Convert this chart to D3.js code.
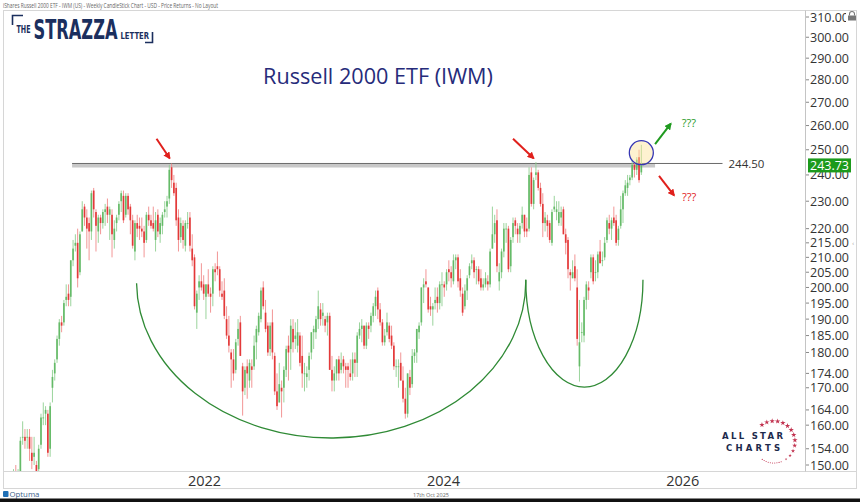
<!DOCTYPE html>
<html><head><meta charset="utf-8">
<script src="https://cdn.jsdelivr.net/npm/d3@7"></script>
<style>body{margin:0;background:#fff}svg{display:block}</style>
</head><body>
<svg id="c" width="860" height="502"></svg>
<script>
// ---------- DATA (weekly IWM candles: [open, high, low, close]) ----------
const firstWeek = "2020-06-22";
const ohlc2020 = [
[143,145,137,138],[138,144,137,143],[145,146,139,142],[143,149,140,147],[147,150,145,146],[146,149,144,147],
[148,157,147,156],[157,161,155,157],[157,159,154,156],[157,159,154,157],[157,159,151,154],
[153,157,149,151],[152,157,150,153],[150,151,143,148],[149,155,148,154],
[155,163,154,162],[162,166,160,162],[163,165,160,164],[163,164,152,153],
[154,166,152,165],[170,175,166,173],[174,178,172,177],[178,185,177,184],[184,190,182,189],
[189,191,186,188],[189,196,188,195],[196,201,194,197],[198,201,194,196]];
const ohlc2021 = [
[197,209,194,209],[209,216,207,213],[214,218,212,215],[215,220,200,203],
[205,219,204,218],[219,230,219,227],[228,229,221,224],[224,227,213,220],
[222,224,209,219],[219,234,216,233],[234,235,224,227],[226,227,212,221],[219,225,215,224],
[224,225,218,222],[222,227,220,226],[226,229,221,227],[228,231,222,225],
[225,228,216,227],[225,227,210,218],[216,223,213,220],[222,225,219,224],[225,230,223,229],
[230,234,226,233],[232,234,222,223],[225,233,224,232],[232,233,225,227],
[228,229,218,223],[223,225,213,214],[212,223,209,222],[222,225,217,220],
[221,224,216,220],[220,224,217,219],[219,221,210,215],[216,226,215,225],[225,228,221,223],
[223,225,220,221],[222,228,219,220],[216,226,212,223],[225,227,217,219],
[218,224,215,222],[221,226,218,225],[226,230,224,227],[228,232,224,230],
[231,244,229,242],[243,244.5,235,238],[237,240,232,233],[235,237,221,223],[224,227,212,216],
[217,224,215,222],[221,223,213,216],[214,223,212,222],[222,226,220,222]];
const ohlc2022 = [
[224,226,212,214],[213,218,207,209],[210,211,193,194],[192,199,187,198],[200,204,196,202],
[202,208,199,200],[201,204,196,198],[197,201,190,201],[201,206,197,198],
[198,200,192,197],[198,207,194,206],[206,208,202,205],[207,212,204,206],
[206,207,197,199],[198,202,196,197],[199,203,190,191],[190,194,184,185],
[185,191,180,182],[180,181,170,178],[178,181,172,174],[175,184,174,183],[184,190,182,187],
[189,191,179,179],[176,177,162.5,169],[170,176,168,175],[176,178,167,174],
[172,178,170,177],[176,178,170,175],[176,185,175,182],[183,188,178,187],
[186,192,185,191],[190,200,189,199],[200,202,193,194],[192,196,186,187],[188,189,179,180],
[181,189,179,188],[189,193,178,180],[179,180,168,169],[169,174,164,165],
[166,177,166,171],[170,172,162,169],[170,176,166,175],[175,182,173,181],[182,185,172,180],
[181,190,175,188],[187,190,180,183],[184,189,181,185],[182,190,180,186],
[185,186,176,177],[179,185,170,174],[174,177,169,174],[173,176,170,174]];
const ohlc2023 = [
[175,180,172,179],[180,186,178,186],[186,188,181,187],[186,191,184,190],[190,199,187,194],
[193,195,188,190],[191,195,188,192],[190,191,186,188],[189,192,185,191],
[191,192,175,175],[175,179,169,172],[172,176,169,174],[174,178,172,178],
[178,179,172,174],[175,180,174,177],[178,179,174,176],[176,177,170,175],
[176,177,170,175],[174,178,172,173],[174,180,172,178],[178,180,173,177],[177,186,173,185],
[185,189,184,187],[187,190,183,188],[188,188,181,182],[182,189,181,188],
[188,189,184,187],[188,192,186,191],[191,195,189,194],[194,199,191,197],[199,200,190,193],
[193,195,188,189],[189,190,182,183],[183,187,182,185],[186,192,185,189],
[188,189,183,184],[185,188,181,182],[182,183,175,176],[176,178,173,176],
[176,178,170,176],[177,180,172,172],[172,176,166,167],[167,170,161.7,163],[163,174,162,174],
[173,175,168,170],[171,181,170,179],[179,181,177,180],[180,187,177,187],
[186,189,184,188],[189,200,188,200],[200,203,195,201],[202,206,200,201]];
const ohlc2024 = [
[200,200,192,193],[194,197,191,193],[193,195,188,194],[195,200,193,196],[197,200,192,195],
[195,202,193,201],[201,205,194,201],[201,202,197,200],[201,206,199,205],
[206,209,202,205],[205,207,200,203],[202,211,201,209],[209,211,206,210],
[210,211,200,202],[203,206,197,199],[198,200,191,192],[194,201,193,199],[199,204,196,203],
[204,208,203,207],[208,211,206,209],[209,210,203,205],[206,207,201,206],
[206,207,201,202],[203,206,199,200],[200,203,199,201],[201,205,200,203],
[202,204,199,201],[201,213,200,212],[213,228,213,218],[218,225,215,222],[223,227,205,207],
[202,208,199,205],[205,213,203,212],[212,222,210,220],[220,222,215,220],
[220,221,205,206],[207,217,205,216],[217,224,215,222],[223,224,218,221],[220,222,215,218],
[218,222,215,221],[222,228,220,225],[225,225,217,219],[220,224,217,219],
[220,243,219,240],[241,243,228,229],[229,239,227,238],[240,245,238,241],
[241,242,234,235],[235,237,228,229],[229,233,217,222],[222,226,219,224],[223,225,217,221]];
const ohlc2025 = [
[222,223,215,216],[215,227,214,226],[227,232,226,228],[226,230,223,227],
[222,230,221,226],[224,228,221,226],[227,228,218,218],[218,220,211,215],
[216,217,203,206],[205,206,199,204],[203,209,203,205],[207,211,202,203],[200,206,182,184],
[176,196,171.7,183],[186,189,183,186],[185,197,183,196],[196,202,193,201],
[200,202,196,199],[205,211,203,210],[210,211,201,202],[205,209,202,205],
[205,212,203,211],[212,216,208,208],[209,212,207,209],[210,217,209,215],[216,224,215,223],
[222,225,218,220],[220,224,216,223],[224,228,221,222],[223,225,214,215],
[216,221,214,220],[221,232,220,227],[227,234,222,233],[233,238,232,236],
[235,240,232,237],[238,240,236,239],[239,246,238,244],[244,245,239,242],[242,247,240,246],
[247,250,237,238],[241,252,240,243.73]];

const priceTicks = [310,300,290,280,270,260,250,240,230,220,215,210,205,200,195,190,185,180,174,170,164,160,154,150];
const yearTicks = ["2022-01-01","2024-01-01","2026-01-01"];
const lastPrice = 243.73;
const resistance = 244.50;
const bandLow = 242.9;
const bandSpan = ["2021-01-12","2025-11-28"];
const lineEnd = "2026-06-22";
// annotations in data space: [date, price]
const bigArc = {from:["2021-07-28",201.4], to:["2024-10-29",202.5], bottom:156.7};
const smallArc = {from:["2024-10-29",202.5], to:["2025-10-22",202.5], bottom:170.2};
const redArrows = [
  {from:["2021-09-27",254.5], to:["2021-11-06",246.6]},
  {from:["2024-09-20",254.5], to:["2024-11-22",246.6]}];
const upArrow = {from:["2025-11-28",252.3], to:["2026-01-15",260.8]};
const downArrow = {from:["2025-12-10",239.6], to:["2026-01-25",232.2]};
const circleAt = ["2025-10-17",248.8];
const titleText = "Russell 2000 ETF (IWM)";
const headerText = "iShares Russell 2000 ETF - IWM (US) - Weekly CandleStick Chart - USD - Price Returns - No Layout";

// ---------- SCALES ----------
const P = d3.utcParse("%Y-%m-%d");
const svg = d3.select("#c");
const x = d3.scaleUtc().domain([P("2020-06-18"), P("2027-03-01")]).range([4, 805]);
const y = d3.scaleLog().domain([150, 310]).range([465, 17]);
const font = "'Open Sans', 'Noto Sans', sans-serif";

const all = [].concat(ohlc2020, ohlc2021, ohlc2022, ohlc2023, ohlc2024, ohlc2025);
const t0 = P(firstWeek);
const data = all.map((d, i) => ({date: d3.utcDay.offset(t0, i * 7 + 4), o: d[0], h: d[1], l: d[2], c: d[3]}));

// ---------- FRAME ----------
svg.append("rect").attr("x",0).attr("y",0).attr("width",860).attr("height",502).attr("fill","#fff");
svg.append("text").attr("x",3).attr("y",7.5).attr("font-size",6.3).attr("fill","#666")
  .attr("font-family",font).attr("textLength",215).attr("lengthAdjust","spacingAndGlyphs").text(headerText);
const frame = svg.append("g").attr("stroke","#d6d6d6").attr("stroke-width",1).attr("fill","none");
frame.append("rect").attr("x",3.5).attr("y",10.5).attr("width",853).attr("height",478);
frame.append("line").attr("x1",3.5).attr("x2",856.5).attr("y1",471.5).attr("y2",471.5);
frame.append("line").attr("x1",805.5).attr("x2",805.5).attr("y1",10.5).attr("y2",471.5).attr("stroke","#c4c4c4");

svg.append("defs").append("clipPath").attr("id","plot").append("rect")
  .attr("x",4).attr("y",11).attr("width",801).attr("height",460);

// ---------- LOGO ----------
const navy = "#1b2f5e";
const lf = "'Liberation Sans Narrow','DejaVu Sans Condensed',sans-serif";
const logo = svg.append("g");
logo.append("path").attr("d","M12.5,25 V15.5 H23").attr("stroke",navy).attr("stroke-width",1.6).attr("fill","none");
logo.append("path").attr("d","M145,42.5 H152.5 V32").attr("stroke",navy).attr("stroke-width",1.6).attr("fill","none");
logo.append("text").attr("x",16.5).attr("y",33).attr("font-size",10.5).attr("font-weight",700)
  .attr("font-family",lf).attr("fill",navy)
  .attr("textLength",14).attr("lengthAdjust","spacingAndGlyphs").text("THE");
logo.append("text").attr("x",33.5).attr("y",38.5).attr("font-size",27).attr("font-weight",700)
  .attr("font-family",lf).attr("fill",navy)
  .attr("textLength",84).attr("lengthAdjust","spacingAndGlyphs").text("STRAZZA");
logo.append("text").attr("x",120.5).attr("y",38.5).attr("font-size",8).attr("font-weight",700)
  .attr("font-family",lf).attr("fill",navy)
  .attr("textLength",28.5).attr("lengthAdjust","spacingAndGlyphs").text("LETTER");

// ---------- TITLE ----------
const title = svg.append("text").attr("x",378).attr("y",84).attr("text-anchor","middle")
  .attr("font-family",font).attr("font-size",20).attr("fill","#262b7a").text(titleText);
const tl = title.node().getComputedTextLength();
title.attr("font-size", 20 * 230 / tl);

// ---------- PLOT ----------
const g = svg.append("g").attr("clip-path","url(#plot)");

// resistance band + line
g.append("rect").attr("x",x(P(bandSpan[0]))).attr("width",x(P(bandSpan[1]))-x(P(bandSpan[0])))
  .attr("y",y(resistance)).attr("height",y(bandLow)-y(resistance)).attr("fill","#c8c8c8");
g.append("line").attr("x1",x(P(bandSpan[0]))).attr("x2",x(P(lineEnd)))
  .attr("y1",y(resistance)).attr("y2",y(resistance)).attr("stroke","#6a6a6a").attr("stroke-width",1);

// candles
const upCol = "#5db761", dnCol = "#e12d2d";
const cg = g.append("g");
cg.selectAll("line.w").data(data).join("line").attr("class","w")
  .attr("x1",d=>x(d.date)).attr("x2",d=>x(d.date))
  .attr("y1",d=>y(d.h)).attr("y2",d=>y(d.l))
  .attr("stroke",d=>d.c>=d.o?"#8fcf91":"#f08a8a").attr("stroke-width",0.9);
cg.selectAll("rect.b").data(data).join("rect").attr("class","b")
  .attr("x",d=>x(d.date)-0.85).attr("width",1.7)
  .attr("y",d=>y(Math.max(d.o,d.c)))
  .attr("height",d=>Math.max(0.8, Math.abs(y(d.o)-y(d.c))))
  .attr("fill",d=>d.c>=d.o?upCol:dnCol).attr("opacity",0.9);

// arcs
function halfEllipse(a){
  const x1 = x(P(a.from[0])), y1 = y(a.from[1]);
  const x2 = x(P(a.to[0])), y2 = y(a.to[1]);
  const rx = (x2 - x1) / 2, ry = y(a.bottom) - (y1 + y2) / 2;
  return `M${x1},${y1} A${rx},${ry} 0 0 0 ${x2},${y2}`;
}
g.append("path").attr("d",halfEllipse(bigArc)).attr("fill","none").attr("stroke","#2f8a35").attr("stroke-width",1.3);
g.append("path").attr("d",halfEllipse(smallArc)).attr("fill","none").attr("stroke","#2f8a35").attr("stroke-width",1.3);

// circle
g.append("circle").attr("cx",x(P(circleAt[0]))).attr("cy",y(circleAt[1])).attr("r",12)
  .attr("fill","rgba(252,226,150,0.45)").attr("stroke","#3636b4").attr("stroke-width",1.3);

// arrows
const defs = svg.select("defs");
function marker(id, col){
  defs.append("marker").attr("id",id).attr("viewBox","0 0 10 10").attr("refX",8).attr("refY",5)
    .attr("markerWidth",3.6).attr("markerHeight",3.6).attr("orient","auto")
    .append("path").attr("d","M0,0 L10,5 L0,10 z").attr("fill",col);
}
marker("mr","#e0201c"); marker("mg","#1f9a1f");
function arrow(a, col, m){
  svg.append("line").attr("x1",x(P(a.from[0]))).attr("y1",y(a.from[1]))
    .attr("x2",x(P(a.to[0]))).attr("y2",y(a.to[1]))
    .attr("stroke",col).attr("stroke-width",2).attr("marker-end",`url(#${m})`);
}
redArrows.forEach(a=>arrow(a,"#e0201c","mr"));
arrow(upArrow,"#1f9a1f","mg");
arrow(downArrow,"#e0201c","mr");
svg.append("text").attr("x",x(P(upArrow.to[0]))+11).attr("y",y(upArrow.to[1])+3)
  .attr("font-family",font).attr("font-size",11).attr("fill","#1f9a1f").text("???");
svg.append("text").attr("x",x(P(downArrow.to[0]))+8).attr("y",y(downArrow.to[1])+6)
  .attr("font-family",font).attr("font-size",11).attr("fill","#e0201c").text("???");

// resistance label
svg.append("text").attr("x",x(P(lineEnd))+6).attr("y",y(resistance)).attr("dy","0.35em")
  .attr("font-family",font).attr("font-size",11.5).attr("fill","#333").text(resistance.toFixed(2));

// ---------- AXES ----------
const ya = svg.append("g");
priceTicks.forEach(v=>{
  ya.append("line").attr("x1",806).attr("x2",809).attr("y1",y(v)).attr("y2",y(v)).attr("stroke","#888");
  ya.append("text").attr("x",810).attr("y",y(v)).attr("dy","0.36em").attr("font-family",font)
    .attr("font-size",12.5).attr("fill","#333").text(v.toFixed(2));
});
// lock icon
svg.append("rect").attr("x",846).attr("y",11).attr("width",10).attr("height",12).attr("fill","#fff");
svg.append("path").attr("d","M849.5,15.5 V14 a2.5,2.5 0 0 1 5,0 V15.5").attr("fill","none").attr("stroke","#777").attr("stroke-width",1.1);
svg.append("rect").attr("x",848).attr("y",15.5).attr("width",8).attr("height",5).attr("fill","#777");
svg.append("text").attr("x",852).attr("y",y(215)).attr("dy","0.35em").attr("font-size",7).attr("fill","#aaa").text("‹");

// last price box
const ly = y(lastPrice);
svg.append("rect").attr("x",808).attr("y",ly-7).attr("width",43).attr("height",14).attr("fill","#1c9a1c");
svg.append("text").attr("x",810).attr("y",ly).attr("dy","0.36em").attr("font-family",font)
  .attr("font-size",12.5).attr("fill","#fff").text(lastPrice.toFixed(2));

// x axis labels
yearTicks.forEach(t=>{
  svg.append("text").attr("x",x(P(t))).attr("y",485.5).attr("font-family",font)
    .attr("font-size",14.5).attr("fill","#333").text(t.slice(0,4));
});

// ---------- FOOTER ----------
svg.append("rect").attr("x",3).attr("y",491).attr("width",5.5).attr("height",6).attr("rx",1).attr("fill","#1f6fb5");
svg.append("text").attr("x",9.5).attr("y",497).attr("font-family",font).attr("font-size",7.8)
  .attr("fill","#3a5f8a").text("Optuma");
svg.append("text").attr("x",413).attr("y",496.5).attr("font-family",font).attr("font-size",5.5)
  .attr("fill","#666").text("17th Oct 2025");
svg.append("rect").attr("x",0).attr("y",498.5).attr("width",860).attr("height",4).attr("fill","#111");

// ---------- ALL STAR CHARTS logo ----------
const asc = svg.append("g");
asc.append("text").attr("x",722).attr("y",439).attr("font-family","'DejaVu Sans',sans-serif").attr("font-weight",700)
  .attr("font-size",8.5).attr("fill","#1d2a4c").attr("textLength",61).attr("lengthAdjust","spacing").text("ALL STAR");
asc.append("text").attr("x",726).attr("y",451).attr("font-family","'DejaVu Sans',sans-serif").attr("font-weight",700)
  .attr("font-size",8.5).attr("fill","#1d2a4c").attr("textLength",54).attr("lengthAdjust","spacing").text("CHARTS");
const cx0 = 774, cy0 = 442, r0 = 21;
const star = d3.symbol().type(d3.symbolStar);
for (let k = 0; k < 13; k++) {
  const ang = (-125 + k * 15) * Math.PI / 180;
  const sz = k < 9 ? 9 : 9 - (k - 8) * 1.8;
  asc.append("path").attr("d", star.size(sz)())
    .attr("transform", `translate(${cx0 + r0 * Math.cos(ang)},${cy0 + r0 * Math.sin(ang)})`).attr("fill","#c23350");
}
for (let k = 0; k < 10; k++) {
  const ang = (70 + k * 6) * Math.PI / 180;
  asc.append("circle").attr("cx", cx0 + r0 * Math.cos(ang)).attr("cy", cy0 + r0 * Math.sin(ang))
    .attr("r", 0.55).attr("fill","#c23350");
}
</script>
</body></html>
